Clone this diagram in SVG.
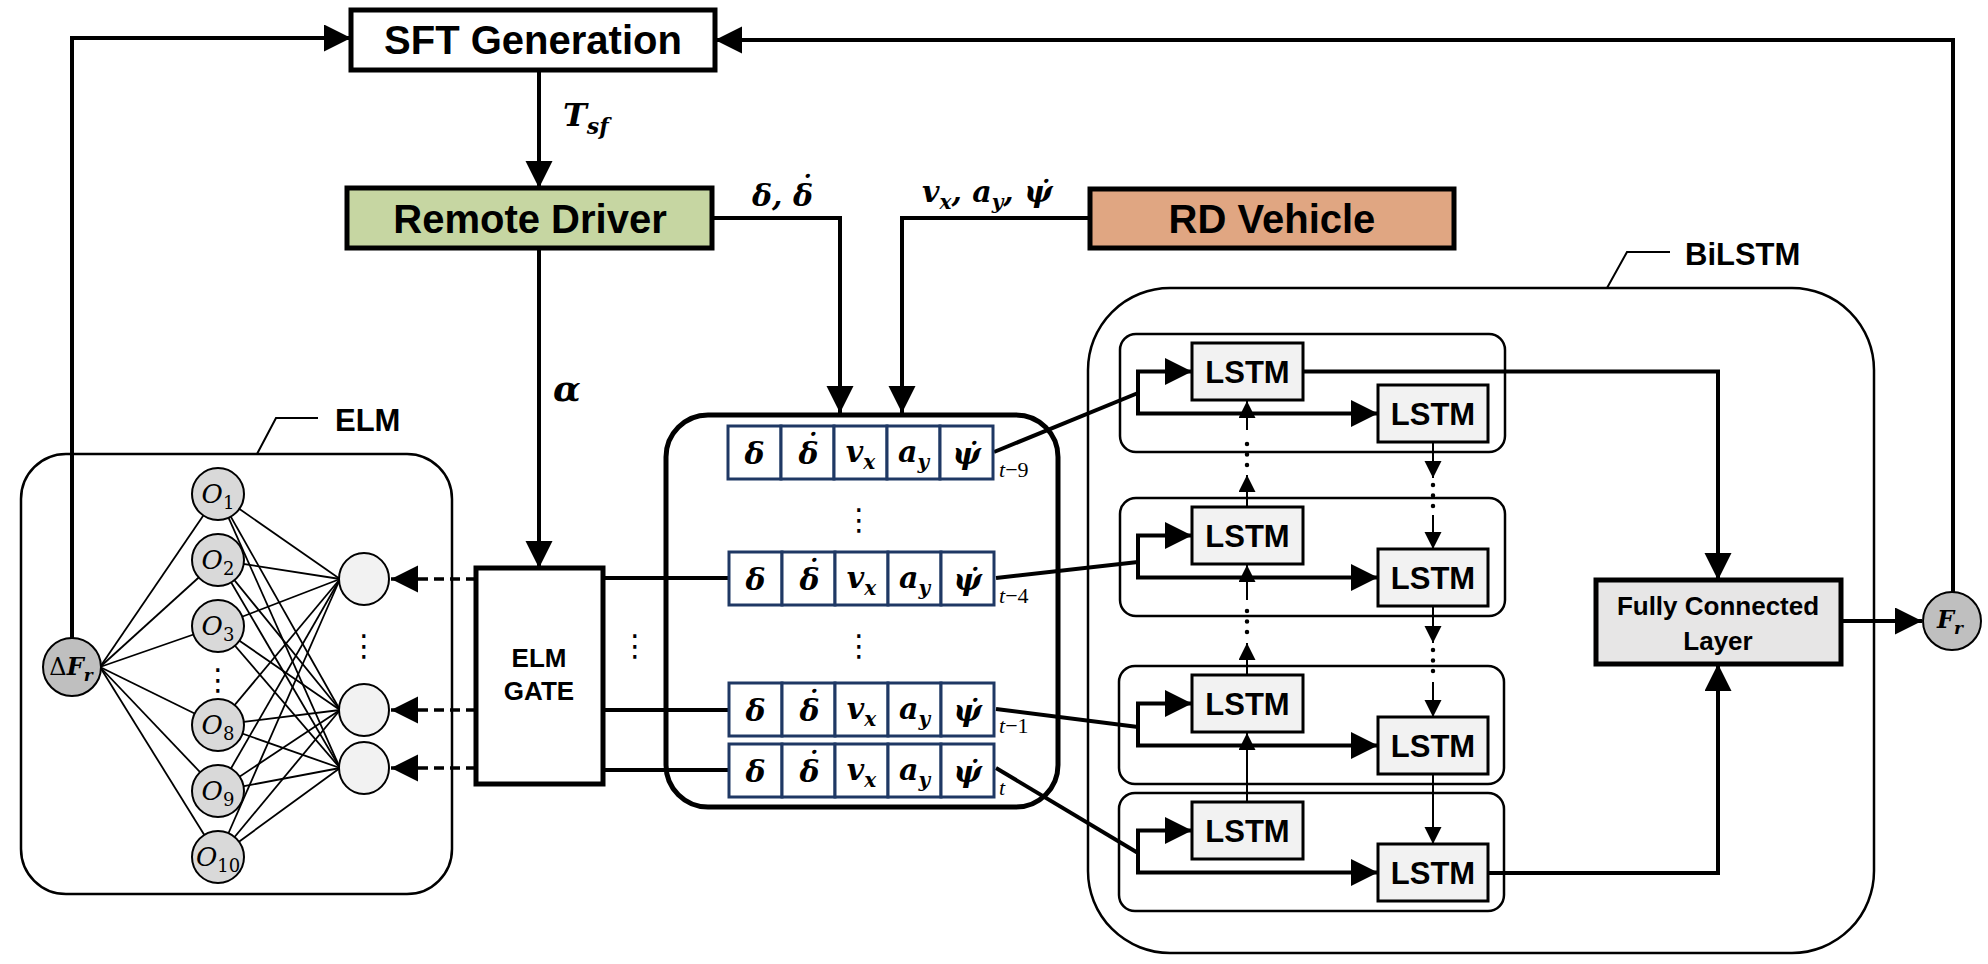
<svg xmlns="http://www.w3.org/2000/svg" width="1988" height="964" viewBox="0 0 1988 964">
<defs>
<style>
.box{fill:#fff;stroke:#000;stroke-width:5}
.cont{fill:none;stroke:#000;stroke-width:2.5}
.lstm{fill:#f2f2f2;stroke:#000;stroke-width:3}
.cell{fill:#fff;stroke:#1f3864;stroke-width:3}
.lbl{font-family:"Liberation Sans",Arial,sans-serif;font-weight:bold;fill:#000}
.math{font-family:"DejaVu Serif","Liberation Serif",serif;font-style:italic;font-weight:bold;fill:#000}
.mi{font-family:"DejaVu Serif","Liberation Serif",serif;font-style:italic;fill:#000}
.dots{font-family:"DejaVu Sans",sans-serif;font-size:30px;text-anchor:middle;fill:#000}
.conn{fill:none;stroke:#000;stroke-width:4}
.thin{fill:none;stroke:#000;stroke-width:2}
.edge{stroke:#000;stroke-width:1.8}
.dash{fill:none;stroke:#000;stroke-width:3.5;stroke-dasharray:10 6}
.dotl{fill:none;stroke:#000;stroke-width:4.5;stroke-linecap:round;stroke-dasharray:0 10.5}
.lt{font-family:"Liberation Sans",Arial,sans-serif;font-weight:bold;font-size:31px;text-anchor:middle}
</style>
<marker id="ah" markerUnits="userSpaceOnUse" markerWidth="28" markerHeight="28" refX="27" refY="13.5" orient="auto" viewBox="0 0 28 28"><path d="M0,0 L27,13.5 L0,27 Z" fill="#000"/></marker>
<marker id="as" markerUnits="userSpaceOnUse" markerWidth="18" markerHeight="18" refX="17" refY="8.5" orient="auto" viewBox="0 0 18 18"><path d="M0,0 L17,8.5 L0,17 Z" fill="#000"/></marker>
</defs>
<rect width="1988" height="964" fill="#fff"/>

<g id="elm">
<rect x="21" y="454" width="431" height="440" rx="45" class="cont"/>
<path d="M257,454 L276,418 H318" class="thin"/>
<text x="335" y="431" class="lbl" font-size="31">ELM</text>
</g>
<g id="bilstm">
<rect x="1088" y="288" width="786" height="665" rx="82" class="cont"/>
<path d="M1607,288 L1627,252 H1670" class="thin"/>
<text x="1685" y="265" class="lbl" font-size="31">BiLSTM</text>
</g>

<g id="connectors">
<g class="edge">
<line x1="100" y1="667" x2="218" y2="494"/><line x1="100" y1="667" x2="218" y2="560"/><line x1="100" y1="667" x2="218" y2="626"/>
<line x1="100" y1="667" x2="218" y2="725"/><line x1="100" y1="667" x2="218" y2="791"/><line x1="100" y1="667" x2="218" y2="857"/>
<line x1="218" y1="494" x2="340" y2="579"/><line x1="218" y1="494" x2="340" y2="710"/><line x1="218" y1="494" x2="340" y2="768"/>
<line x1="218" y1="560" x2="340" y2="579"/><line x1="218" y1="560" x2="340" y2="710"/><line x1="218" y1="560" x2="340" y2="768"/>
<line x1="218" y1="626" x2="340" y2="579"/><line x1="218" y1="626" x2="340" y2="710"/><line x1="218" y1="626" x2="340" y2="768"/>
<line x1="218" y1="725" x2="340" y2="579"/><line x1="218" y1="725" x2="340" y2="710"/><line x1="218" y1="725" x2="340" y2="768"/>
<line x1="218" y1="791" x2="340" y2="579"/><line x1="218" y1="791" x2="340" y2="710"/><line x1="218" y1="791" x2="340" y2="768"/>
<line x1="218" y1="857" x2="340" y2="579"/><line x1="218" y1="857" x2="340" y2="710"/><line x1="218" y1="857" x2="340" y2="768"/>
</g>
<path d="M72,638 V38 H351" class="conn" marker-end="url(#ah)"/>
<path d="M1953,592 V40 H715" class="conn" marker-end="url(#ah)"/>
<path d="M539,70 V188" class="conn" marker-end="url(#ah)"/>
<path d="M539,248 V568" class="conn" marker-end="url(#ah)"/>
<path d="M712,218 H840 V413" class="conn" marker-end="url(#ah)"/>
<path d="M1090,218 H902 V413" class="conn" marker-end="url(#ah)"/>
<path d="M476,579 H391" class="dash" marker-end="url(#ah)"/>
<path d="M476,710 H391" class="dash" marker-end="url(#ah)"/>
<path d="M476,768 H391" class="dash" marker-end="url(#ah)"/>
<path d="M603,578 H729" class="conn"/>
<path d="M603,710 H729" class="conn"/>
<path d="M603,770 H729" class="conn"/>
<path d="M994,452 L1138,393" class="conn"/>
<path d="M996,578 L1138,562" class="conn"/>
<path d="M996,709 L1138,727" class="conn"/>
<path d="M996,768 L1138,853" class="conn"/>
<path d="M1138,393 V371.5 H1192" class="conn" marker-end="url(#ah)"/>
<path d="M1138,393 V413.5 H1378" class="conn" marker-end="url(#ah)"/>
<path d="M1138,562 V535.5 H1192" class="conn" marker-end="url(#ah)"/>
<path d="M1138,562 V577.5 H1378" class="conn" marker-end="url(#ah)"/>
<path d="M1138,727 V703.5 H1192" class="conn" marker-end="url(#ah)"/>
<path d="M1138,727 V745.5 H1378" class="conn" marker-end="url(#ah)"/>
<path d="M1138,853 V830.5 H1192" class="conn" marker-end="url(#ah)"/>
<path d="M1138,853 V872.5 H1378" class="conn" marker-end="url(#ah)"/>
<path d="M1247,802 V733" class="thin" marker-end="url(#as)"/>
<path d="M1247,675 V643" class="thin" marker-end="url(#as)"/>
<path d="M1247,632 V610" class="dotl"/>
<path d="M1247,600 V565" class="thin" marker-end="url(#as)"/>
<path d="M1247,507 V475" class="thin" marker-end="url(#as)"/>
<path d="M1247,465 V443" class="dotl"/>
<path d="M1247,430 V401" class="thin" marker-end="url(#as)"/>
<path d="M1433,442 V478" class="thin" marker-end="url(#as)"/>
<path d="M1433,485 V507" class="dotl"/>
<path d="M1433,515 V549" class="thin" marker-end="url(#as)"/>
<path d="M1433,607 V643" class="thin" marker-end="url(#as)"/>
<path d="M1433,650 V672" class="dotl"/>
<path d="M1433,682 V717" class="thin" marker-end="url(#as)"/>
<path d="M1433,775 V844" class="thin" marker-end="url(#as)"/>
<path d="M1303,371.5 H1718 V580" class="conn" marker-end="url(#ah)"/>
<path d="M1488,873 H1718 V664" class="conn" marker-end="url(#ah)"/>
<path d="M1841,621 H1922" class="conn" marker-end="url(#ah)"/>
</g>

<g id="sft">
<rect x="351" y="10" width="364" height="60" class="box" stroke-width="4"/>
<text x="533" y="54" class="lbl" font-size="40" text-anchor="middle">SFT Generation</text>
</g>
<g id="remote-driver">
<rect x="347" y="188" width="365" height="60" class="box" style="fill:#c6d6a2"/>
<text x="530" y="233" class="lbl" font-size="40" text-anchor="middle">Remote Driver</text>
</g>
<g id="rd-vehicle">
<rect x="1090" y="189" width="364" height="59" class="box" style="fill:#e0a682"/>
<text x="1272" y="233" class="lbl" font-size="40" text-anchor="middle">RD Vehicle</text>
</g>

<g id="labels">
<text x="563" y="126" class="math" font-size="32">T<tspan font-size="22" dy="8">sf</tspan></text>
<text x="553" y="401" class="math" font-size="36">α</text>
<text x="752" y="206" class="math" font-size="30">δ, δ<tspan dx="-15" dy="-9">˙</tspan></text>
<text x="922" y="202" class="math" font-size="30">v<tspan font-size="20" dy="7">x</tspan><tspan dy="-7">, a</tspan><tspan font-size="20" dy="7">y</tspan><tspan dy="-7">, ψ̇</tspan></text>
</g>

<g id="delta-fr">
<circle cx="72" cy="667" r="29" fill="#bfbfbf" stroke="#000" stroke-width="2"/>
<text x="71" y="675" text-anchor="middle" font-size="24"><tspan font-family="DejaVu Serif, serif">Δ</tspan><tspan class="math">F</tspan><tspan class="math" font-size="17" dy="6">r</tspan></text>
</g>
<g id="hidden-nodes" class="mi">
<g id="o1"><circle cx="218" cy="494" r="26" fill="#d9d9d9" stroke="#000" stroke-width="2"/><text x="218" y="503" text-anchor="middle" font-size="26">O<tspan font-size="18" dy="6" font-style="normal">1</tspan></text></g>
<g id="o2"><circle cx="218" cy="560" r="26" fill="#d9d9d9" stroke="#000" stroke-width="2"/><text x="218" y="569" text-anchor="middle" font-size="26">O<tspan font-size="18" dy="6" font-style="normal">2</tspan></text></g>
<g id="o3"><circle cx="218" cy="626" r="26" fill="#d9d9d9" stroke="#000" stroke-width="2"/><text x="218" y="635" text-anchor="middle" font-size="26">O<tspan font-size="18" dy="6" font-style="normal">3</tspan></text></g>
<g id="o8"><circle cx="218" cy="725" r="26" fill="#d9d9d9" stroke="#000" stroke-width="2"/><text x="218" y="734" text-anchor="middle" font-size="26">O<tspan font-size="18" dy="6" font-style="normal">8</tspan></text></g>
<g id="o9"><circle cx="218" cy="791" r="26" fill="#d9d9d9" stroke="#000" stroke-width="2"/><text x="218" y="800" text-anchor="middle" font-size="26">O<tspan font-size="18" dy="6" font-style="normal">9</tspan></text></g>
<g id="o10"><circle cx="218" cy="857" r="26" fill="#d9d9d9" stroke="#000" stroke-width="2"/><text x="218" y="866" text-anchor="middle" font-size="26">O<tspan font-size="18" dy="6" font-style="normal">10</tspan></text></g>
</g>
<text x="218" y="690" class="dots">⋮</text>
<g id="output-nodes">
<ellipse cx="364" cy="579" rx="25" ry="26" fill="#f2f2f2" stroke="#000" stroke-width="2"/>
<ellipse cx="364" cy="710" rx="25" ry="26" fill="#f2f2f2" stroke="#000" stroke-width="2"/>
<ellipse cx="364" cy="768" rx="25" ry="26" fill="#f2f2f2" stroke="#000" stroke-width="2"/>
<text x="364" y="656" class="dots">⋮</text>
</g>

<g id="elm-gate">
<rect x="476" y="568" width="127" height="216" class="box"/>
<text x="539" y="667" class="lbl" font-size="26" text-anchor="middle">ELM</text>
<text x="539" y="700" class="lbl" font-size="26" text-anchor="middle">GATE</text>
</g>
<text x="635" y="656" class="dots">⋮</text>

<g id="data-window">
<rect x="666" y="415" width="392" height="392" rx="42" fill="none" stroke="#000" stroke-width="5"/>
<g id="row-t9" transform="translate(728,426)">
<rect x="0" y="0" width="53" height="53" class="cell"/><rect x="53" y="0" width="53" height="53" class="cell"/><rect x="106" y="0" width="53" height="53" class="cell"/><rect x="159" y="0" width="53" height="53" class="cell"/><rect x="212" y="0" width="53" height="53" class="cell"/>
<g class="math" font-size="30" text-anchor="middle"><text x="26.5" y="38">δ</text><text x="79.5" y="38" text-anchor="start" dx="-9">δ<tspan dx="-15" dy="-9">˙</tspan></text><text x="132.5" y="36">v<tspan font-size="20" dy="7">x</tspan></text><text x="185.5" y="36">a<tspan font-size="20" dy="7">y</tspan></text><text x="238.5" y="38">ψ̇</text></g>
</g>
<g id="row-t4" transform="translate(729,552)">
<rect x="0" y="0" width="53" height="53" class="cell"/><rect x="53" y="0" width="53" height="53" class="cell"/><rect x="106" y="0" width="53" height="53" class="cell"/><rect x="159" y="0" width="53" height="53" class="cell"/><rect x="212" y="0" width="53" height="53" class="cell"/>
<g class="math" font-size="30" text-anchor="middle"><text x="26.5" y="38">δ</text><text x="79.5" y="38" text-anchor="start" dx="-9">δ<tspan dx="-15" dy="-9">˙</tspan></text><text x="132.5" y="36">v<tspan font-size="20" dy="7">x</tspan></text><text x="185.5" y="36">a<tspan font-size="20" dy="7">y</tspan></text><text x="238.5" y="38">ψ̇</text></g>
</g>
<g id="row-t1" transform="translate(729,683)">
<rect x="0" y="0" width="53" height="53" class="cell"/><rect x="53" y="0" width="53" height="53" class="cell"/><rect x="106" y="0" width="53" height="53" class="cell"/><rect x="159" y="0" width="53" height="53" class="cell"/><rect x="212" y="0" width="53" height="53" class="cell"/>
<g class="math" font-size="30" text-anchor="middle"><text x="26.5" y="38">δ</text><text x="79.5" y="38" text-anchor="start" dx="-9">δ<tspan dx="-15" dy="-9">˙</tspan></text><text x="132.5" y="36">v<tspan font-size="20" dy="7">x</tspan></text><text x="185.5" y="36">a<tspan font-size="20" dy="7">y</tspan></text><text x="238.5" y="38">ψ̇</text></g>
</g>
<g id="row-t" transform="translate(729,744)">
<rect x="0" y="0" width="53" height="53" class="cell"/><rect x="53" y="0" width="53" height="53" class="cell"/><rect x="106" y="0" width="53" height="53" class="cell"/><rect x="159" y="0" width="53" height="53" class="cell"/><rect x="212" y="0" width="53" height="53" class="cell"/>
<g class="math" font-size="30" text-anchor="middle"><text x="26.5" y="38">δ</text><text x="79.5" y="38" text-anchor="start" dx="-9">δ<tspan dx="-15" dy="-9">˙</tspan></text><text x="132.5" y="36">v<tspan font-size="20" dy="7">x</tspan></text><text x="185.5" y="36">a<tspan font-size="20" dy="7">y</tspan></text><text x="238.5" y="38">ψ̇</text></g>
</g>
<g font-family="Liberation Serif, serif" font-size="22">
<text x="999" y="477"><tspan font-style="italic">t</tspan>−9</text>
<text x="999" y="603"><tspan font-style="italic">t</tspan>−4</text>
<text x="999" y="733"><tspan font-style="italic">t</tspan>−1</text>
<text x="999" y="795" font-style="italic">t</text>
</g>
<text x="859" y="530" class="dots">⋮</text>
<text x="859" y="656" class="dots">⋮</text>
</g>

<g id="block-1">
<rect x="1120" y="334" width="385" height="118" rx="16" class="cont"/>
<rect x="1192" y="343" width="111" height="57" class="lstm"/><text x="1247.5" y="383" class="lt">LSTM</text>
<rect x="1378" y="385" width="110" height="57" class="lstm"/><text x="1433" y="425" class="lt">LSTM</text>
</g>
<g id="block-2">
<rect x="1120" y="498" width="385" height="118" rx="16" class="cont"/>
<rect x="1192" y="507" width="111" height="57" class="lstm"/><text x="1247.5" y="547" class="lt">LSTM</text>
<rect x="1378" y="549" width="110" height="57" class="lstm"/><text x="1433" y="589" class="lt">LSTM</text>
</g>
<g id="block-3">
<rect x="1119" y="666" width="385" height="118" rx="16" class="cont"/>
<rect x="1192" y="675" width="111" height="57" class="lstm"/><text x="1247.5" y="715" class="lt">LSTM</text>
<rect x="1378" y="717" width="110" height="57" class="lstm"/><text x="1433" y="757" class="lt">LSTM</text>
</g>
<g id="block-4">
<rect x="1119" y="793" width="385" height="118" rx="16" class="cont"/>
<rect x="1192" y="802" width="111" height="57" class="lstm"/><text x="1247.5" y="842" class="lt">LSTM</text>
<rect x="1378" y="844" width="110" height="57" class="lstm"/><text x="1433" y="884" class="lt">LSTM</text>
</g>

<g id="fc">
<rect x="1596" y="580" width="245" height="84" fill="#e7e6e6" stroke="#000" stroke-width="5"/>
<text x="1718" y="615" class="lbl" font-size="26" text-anchor="middle">Fully Connected</text>
<text x="1718" y="650" class="lbl" font-size="26" text-anchor="middle">Layer</text>
</g>
<g id="fr">
<circle cx="1952" cy="621" r="29" fill="#bfbfbf" stroke="#000" stroke-width="2"/>
<text x="1950" y="628" text-anchor="middle" class="math" font-size="24">F<tspan font-size="17" dy="6">r</tspan></text>
</g>
</svg>
